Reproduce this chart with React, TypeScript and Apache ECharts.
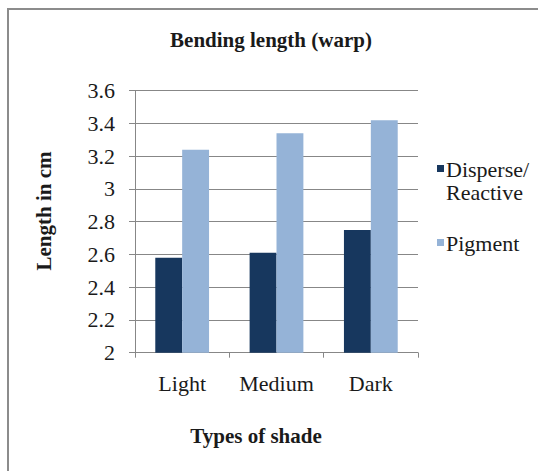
import React, { useEffect, useRef } from "react";
import * as echarts from "echarts";

// Shade categories on the x axis
const shades = ["Light", "Medium", "Dark"];

// Bending length (cm) per shade for each dye type
const disperseReactive = [2.58, 2.61, 2.75];
const pigment = [3.24, 3.34, 3.42];

// Value axis range and step
const yMin = 2;
const yMax = 3.6;
const yStep = 0.2;

const seriesNames = ["Disperse/\nReactive", "Pigment"];
const seriesColors = ["#17375E", "#95B3D7"];

const FONT = "Liberation Serif";
const INK = "#1a1a1a";

const textStyle = (size: number, bold = false) => ({
  fontFamily: FONT,
  fontSize: size,
  fontWeight: bold ? ("bold" as const) : ("normal" as const),
  fill: INK,
});

export default function App() {
  const ref = useRef<HTMLDivElement>(null);

  useEffect(() => {
    if (!ref.current) return;
    const chart = echarts.init(ref.current, undefined, { renderer: "svg" });

    const option: echarts.EChartsOption = {
      animation: false,
      backgroundColor: "#ffffff",
      textStyle: { fontFamily: FONT },
      grid: { left: 135, top: 90.7, right: 120, bottom: 118.3, containLabel: false },
      xAxis: {
        type: "category",
        data: shades,
        boundaryGap: true,
        axisLine: { show: true, lineStyle: { color: "#878787", width: 1 } },
        axisTick: { show: true, length: 5, interval: 0, lineStyle: { color: "#878787" } },
        axisLabel: {
          fontFamily: FONT,
          fontSize: 22,
          color: INK,
          margin: 20,
          interval: 0,
          hideOverlap: false,
        },
        splitLine: { show: false },
      },
      yAxis: {
        type: "value",
        min: yMin,
        max: yMax,
        interval: yStep,
        axisLine: { show: true, lineStyle: { color: "#878787", width: 1 } },
        axisTick: { show: true, length: 6, lineStyle: { color: "#878787" } },
        axisLabel: {
          fontFamily: FONT,
          fontSize: 22,
          color: INK,
          margin: 20,
          formatter: (v: number) => String(parseFloat(v.toFixed(1))),
        },
        splitLine: { show: true, lineStyle: { color: "#878787", width: 1 } },
      },
      series: [
        {
          name: seriesNames[0],
          type: "bar",
          data: disperseReactive,
          itemStyle: { color: seriesColors[0] },
          barGap: "0%",
          barCategoryGap: "43%",
        },
        {
          name: seriesNames[1],
          type: "bar",
          data: pigment,
          itemStyle: { color: seriesColors[1] },
          barGap: "0%",
          barCategoryGap: "43%",
        },
      ],
      graphic: [
        // outer frame
        {
          type: "rect",
          shape: { x: 8, y: 9, width: 560, height: 500 },
          style: { fill: "none", stroke: "#8c8c8c", lineWidth: 2 },
          silent: true,
        },
        // chart title
        {
          type: "text",
          x: 271,
          y: 40,
          style: {
            ...textStyle(21, true),
            text: "Bending length (warp)",
            align: "center",
            verticalAlign: "middle",
          },
        },
        // y axis title
        {
          type: "text",
          x: 44,
          y: 211,
          rotation: Math.PI / 2,
          style: {
            ...textStyle(21, true),
            text: "Length in cm",
            align: "center",
            verticalAlign: "middle",
          },
        },
        // x axis title
        {
          type: "text",
          x: 256,
          y: 436,
          style: {
            ...textStyle(21, true),
            text: "Types of shade",
            align: "center",
            verticalAlign: "middle",
          },
        },
        // legend
        {
          type: "rect",
          shape: { x: 437, y: 165, width: 7, height: 7 },
          style: { fill: seriesColors[0] },
        },
        {
          type: "text",
          x: 446,
          y: 158,
          style: {
            ...textStyle(22),
            text: seriesNames[0],
            lineHeight: 23,
            align: "left",
            verticalAlign: "top",
          },
        },
        {
          type: "rect",
          shape: { x: 437, y: 239, width: 7, height: 7 },
          style: { fill: seriesColors[1] },
        },
        {
          type: "text",
          x: 446,
          y: 232,
          style: {
            ...textStyle(22),
            text: seriesNames[1],
            lineHeight: 23,
            align: "left",
            verticalAlign: "top",
          },
        },
      ],
    };

    chart.setOption(option);
    return () => chart.dispose();
  }, []);

  return (
    <div
      ref={ref}
      style={{ position: "absolute", left: 0, top: 0, width: 538, height: 471, background: "#fff" }}
    />
  );
}
